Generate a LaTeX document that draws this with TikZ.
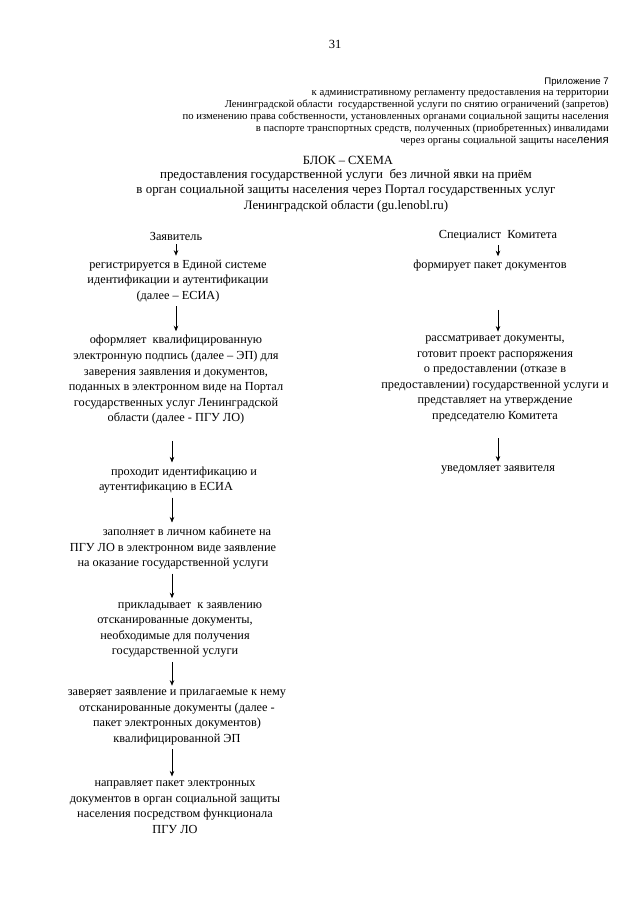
\documentclass[tikz,border=0pt]{standalone}
\usepackage{fontspec}
\setmainfont{Liberation Serif}
\newfontfamily\timesf{Liberation Serif}
\newfontfamily\arialf{Liberation Sans}
\usetikzlibrary{arrows.meta}
\tikzset{
  txt/.style={inner sep=1pt, align=center, font=\timesf\fontsize{12.3}{15.6}\selectfont},
  hdr/.style={inner sep=0pt, align=right, font=\timesf\fontsize{10.7}{11.8}\selectfont},
  ttl/.style={inner sep=0pt, align=center, font=\timesf\fontsize{12.9}{15.6}\selectfont},
  arr/.style={draw=black, line width=0.6pt, -{Stealth[length=5.5pt,width=4.5pt]}, shorten >=3pt, shorten <=3pt}
}
\begin{document}
\begin{tikzpicture}[x=1pt,y=-1pt]
\useasboundingbox[fill=white] (0,0) rectangle (640,905);
\node[inner sep=0pt, font=\timesf\fontsize{12.5}{14}\selectfont] (pg) at (335,44) {31};
\node[hdr, anchor=east] (hd) at (609,111.5) {{\arialf\fontsize{9.6}{11.8}\selectfont Приложение 7}\\
к административному регламенту предоставления на территории\\
Ленинградской области \ государственной услуги по снятию ограничений (запретов)\\
по изменению права собственности, установленных органами социальной защиты населения\\
в паспорте транспортных средств, полученных (приобретенных) инвалидами\\
через органы социальной защиты насе{\arialf\fontsize{11.5}{11.8}\selectfont ления}};
\node[ttl, font=\timesf\fontsize{12.5}{15.6}\selectfont] (t1) at (348,160) {БЛОК – СХЕМА};
\node[ttl] (t2) at (346,190.5) {предоставления государственной услуги \ без личной явки на приём\\
в орган социальной защиты населения через Портал государственных услуг\\
Ленинградской области (gu.lenobl.ru)};

% left column
\coordinate (la) at (176,0);
\coordinate (lb) at (172,0);
\node[txt] (zv) at (176,236) {Заявитель};
\node[txt] (l1) at (178,281) {регистрируется в Единой системе\\идентификации и аутентификации\\(далее – ЕСИА)};
\node[txt] (l2) at (176,380) {оформляет \ квалифицированную\\электронную подпись (далее – ЭП) для\\заверения заявления и документов,\\поданных в электронном виде на Портал\\государственных услуг Ленинградской\\области (далее - ПГУ ЛО)};
\node[txt, align=left] (l3) at (178,480) {\hspace*{12pt}проходит идентификацию и\\аутентификацию в ЕСИА};
\node[txt] (l4) at (173,548) {\hspace*{28pt}заполняет в личном кабинете на\\ПГУ ЛО в электронном виде заявление\\на оказание государственной услуги};
\node[txt] (l5) at (175,630) {\hspace*{30pt}прикладывает \ к заявлению\\отсканированные документы,\\необходимые для получения\\государственной услуги};
\node[txt] (l6) at (177,717.5) {заверяет заявление и прилагаемые к нему\\отсканированные документы (далее -\\пакет электронных документов)\\квалифицированной ЭП};
\node[txt] (l7) at (175,807) {направляет пакет электронных\\документов в орган социальной защиты\\населения посредством функционала\\ПГУ ЛО};

\draw[arr] (zv.south -| la) -- (l1.north -| la);
\draw[arr] (l1.south -| la) -- (l2.north -| la);
\draw[arr] (l2.south -| lb) ++(0,12) -- (l3.north -| lb);
\draw[arr] (l3.south -| lb) -- (l4.north -| lb);
\draw[arr] (l4.south -| lb) -- (l5.north -| lb);
\draw[arr] (l5.south -| lb) -- (l6.north -| lb);
\draw[arr] (l6.south -| lb) -- (l7.north -| lb);

% right column
\coordinate (ra) at (498,0);
\node[txt] (sp) at (498,236) {Специалист \ Комитета};
\node[txt] (r1) at (490,266) {формирует пакет документов};
\node[txt] (r2) at (495,379) {рассматривает документы,\\готовит проект распоряжения\\о предоставлении (отказе в\\предоставлении) государственной услуги и\\представляет на утверждение\\председателю Комитета};
\node[txt] (r3) at (498,470) {уведомляет заявителя};

\draw[arr] (sp.south -| ra) -- (r1.north -| ra);
\draw[arr] (r1.south -| ra) ++(0,34) -- (r2.north -| ra);
\draw[arr] (r2.south -| ra) ++(0,12) -- (r3.north -| ra);
\end{tikzpicture}
\end{document}
